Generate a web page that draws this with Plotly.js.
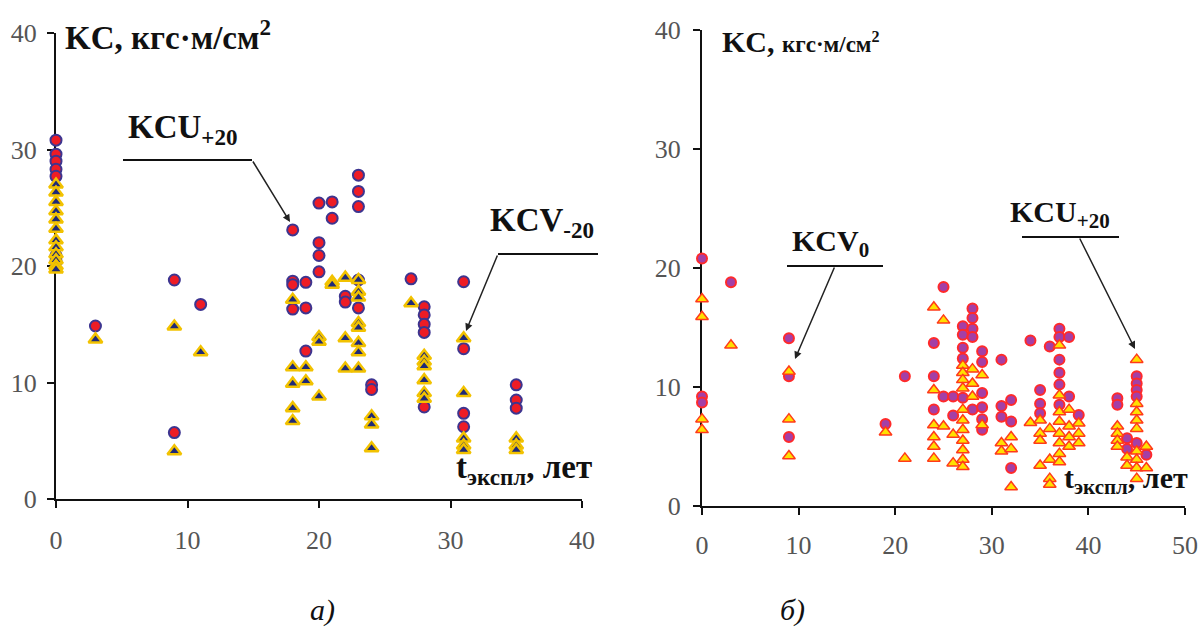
<!DOCTYPE html>
<html>
<head>
<meta charset="utf-8">
<script src="https://cdn.plot.ly/plotly-3.0.1.min.js"></script>
<style>html,body{margin:0;padding:0;background:#fff}#chart{width:1198px;height:628px}</style>
</head>
<body>
<div id="chart"></div>
<script>
// ---------- Panel а) : KCU+20 (circles) and KCV-20 (triangles) ----------
const aKCU_x = [0,0,0,0,0,0,0, 3, 9,9, 11, 18,18,18,18, 19,19,19, 20,20,20,20, 21,21, 22,22, 23,23,23,23,23, 24,24, 27, 28,28,28,28,28, 31,31,31,31, 35,35,35];
const aKCU_y = [30.8,29.6,29.0,28.3,27.7,20.9,20.4, 14.85, 18.8,5.7, 16.7, 23.1,18.7,18.4,16.3, 18.6,16.4,12.7, 25.4,22.0,20.9,19.5, 25.5,24.1, 17.4,16.9, 27.8,26.4,25.1,18.8,16.4, 9.8,9.4, 18.9, 16.5,15.8,15.0,14.3,7.9, 18.65,12.9,7.35,6.2, 9.8,8.5,7.8];

const aKCV_x = [0,0,0,0,0,0,0,0,0,0,0,0, 3, 9,9, 11, 18,18,18,18,18, 19,19, 20,20,20, 21,21, 22,22,22, 23,23,23,23,23,23,23,23, 24,24,24, 27, 28,28,28,28,28,28, 31,31,31,31,31, 35,35,35];
const aKCV_y = [27.0,26.3,25.5,24.7,24.0,23.2,22.2,21.6,21.0,20.5,20.0,19.7, 13.7, 14.8,4.1, 12.6, 17.1,11.3,9.9,7.8,6.7, 11.3,10.1, 13.9,13.5,8.8, 18.65,18.4, 19.0,13.8,11.2, 18.8,17.8,17.3,15.1,14.7,13.4,12.6,11.2, 7.1,6.4,4.35, 16.8, 12.3,11.8,11.4,10.2,9.1,8.6, 13.8,9.1,5.2,4.6,4.2, 5.2,4.6,4.2];

// ---------- Panel б) : KCU+20 (circles) and KCV0 (triangles) ----------
const bKCU_x = [0,0,0, 3, 9,9,9, 19, 21, 24,24,24, 25,25, 26,26, 27,27,27,27,27, 28,28,28,28,28, 29,29,29,29,29,29, 31,31,31, 32,32,32, 34, 35,35,35, 36, 37,37,37,37,37,37, 38,38, 39, 43,43, 44,44, 45,45,45,45,45, 46];
const bKCU_y = [20.8,9.2,8.7, 18.8, 14.1,10.9,5.8, 6.9, 10.9, 13.7,10.9,8.1, 18.4,9.2, 9.2,7.6, 15.1,14.4,13.3,12.4,9.1, 16.6,15.8,14.9,14.2,8.1, 13.0,12.1,9.5,8.3,7.3,6.4, 12.3,8.4,7.5, 8.9,7.1,3.2, 13.9, 9.75,8.6,7.8, 13.4, 14.9,14.2,12.3,11.2,10.2,8.5, 14.2,9.2, 7.65, 9.05,8.5, 5.7,4.8, 10.9,10.3,9.75,9.2,5.3, 4.3];

const bKCV_x = [0,0,0,0, 3, 9,9,9, 19, 21, 24,24,24,24,24,24, 25,25, 26,26, 27,27,27,27,27,27,27,27,27,27,27, 28,28,28, 29,29, 31,31, 32,32,32, 34, 35,35,35,35, 36,36,36,36, 37,37,37,37,37,37,37,37, 38,38,38,38, 39,39,39, 43,43,43,43, 44,44, 45,45,45,45,45,45,45,45,45, 46,46];
const bKCV_y = [17.4,15.9,7.3,6.4, 13.5, 11.3,7.3,4.2, 6.2, 4.0, 16.7,9.75,6.8,5.8,5.0,4.0, 15.6,6.7, 6.0,3.6, 11.8,11.2,10.6,9.9,8.1,7.2,6.4,5.5,4.7,3.9,3.3, 11.5,10.3,9.2, 11.0,6.8, 5.3,4.6, 5.8,4.8,1.6, 7.0, 7.2,6.1,5.5,3.4, 6.5,3.9,2.3,1.8, 13.5,9.3,7.9,7.1,6.1,5.3,4.4,3.7, 8.1,6.7,5.8,5.0, 6.95,6.1,5.3, 6.7,6.1,5.5,5.0, 4.1,3.4, 12.3,8.6,7.9,7.2,6.5,4.6,3.9,3.2,2.3, 5.0,3.2];

const aTicksX = [0,10,20,30,40];
const bTicksX = [0,10,20,30,40,50];
const yTicks = [0,10,20,30,40];

const W = 1198, H = 628;
const px = v => v / W;
const py = v => 1 - v / H;
const SERIF = 'Liberation Serif, Times New Roman, serif';

const traces = [
  {x: aKCU_x, y: aKCU_y, xaxis: 'x', yaxis: 'y', type: 'scatter', mode: 'markers', cliponaxis: false,
   marker: {symbol: 'circle', size: 11, color: '#ee1c25', line: {color: '#3d3590', width: 2}}},
  {x: aKCV_x, y: aKCV_y, xaxis: 'x', yaxis: 'y', type: 'scatter', mode: 'markers', cliponaxis: false,
   marker: {symbol: 'triangle-up', size: 12, color: '#1f2a78', line: {color: '#f2c200', width: 2.5}}},
  {x: bKCU_x, y: bKCU_y, xaxis: 'x2', yaxis: 'y2', type: 'scatter', mode: 'markers', cliponaxis: false,
   marker: {symbol: 'circle', size: 10, color: '#a43fa6', line: {color: '#ff2a2a', width: 2}}},
  {x: bKCV_x, y: bKCV_y, xaxis: 'x2', yaxis: 'y2', type: 'scatter', mode: 'markers', cliponaxis: false,
   marker: {symbol: 'triangle-up', size: 11, color: '#ffe000', line: {color: '#ff3a1a', width: 1.5}}}
];

const tickFont = {family: SERIF, size: 26, color: '#555'};
function axis(domain, range, tickvals, extra) {
  return Object.assign({
    domain: domain, range: range, tickvals: tickvals, ticktext: tickvals.map(String),
    showgrid: false, zeroline: false, showline: true, linecolor: '#111', linewidth: 2,
    ticks: 'outside', ticklen: 7, tickwidth: 2, tickcolor: '#111', tickfont: tickFont,
    layer: 'below traces', fixedrange: true
  }, extra);
}

const lineStyle = {color: '#111', width: 2};
const shapes = [
  {type: 'line', xref: 'paper', yref: 'paper', x0: px(123), x1: px(252), y0: py(160), y1: py(160), line: lineStyle},
  {type: 'line', xref: 'paper', yref: 'paper', x0: px(498), x1: px(598), y0: py(254), y1: py(254), line: lineStyle},
  {type: 'line', xref: 'paper', yref: 'paper', x0: px(787), x1: px(883), y0: py(266), y1: py(266), line: lineStyle},
  {type: 'line', xref: 'paper', yref: 'paper', x0: px(1022), x1: px(1119), y0: py(237), y1: py(237), line: lineStyle}
];

function txt(x, y, text, size, opts) {
  return Object.assign({xref: 'paper', yref: 'paper', x: px(x), y: py(y), text: text, showarrow: false,
    xanchor: 'left', yanchor: 'middle', font: {family: SERIF, size: size, color: '#111'}}, opts || {});
}
function arrow(x, y, ax, ay) {
  return {xref: 'paper', yref: 'paper', x: px(x), y: py(y), ax: ax, ay: ay, text: '', showarrow: true,
    arrowhead: 2, arrowsize: 1, arrowwidth: 1.5, arrowcolor: '#222'};
}

const annotations = [
  txt(63, 35, '<b>KC, кгс·м/см<sup>2</sup></b>', 33),
  txt(126, 129, '<b>KCU<sub>+20</sub></b>', 33),
  txt(488, 223, '<b>KCV<sub>-20</sub></b>', 33),
  txt(454, 469, '<b>t<sub>экспл</sub>, лет</b>', 33),
  arrow(290, 222, -38, -62),
  arrow(466, 331, 32, -77),

  txt(720, 42, '<b>KC, <span style="font-size:23px">кгс·м/см<sup>2</sup></span></b>', 30),
  txt(790, 243, '<b>KCV<sub>0</sub></b>', 30),
  txt(1008, 214, '<b>KCU<sub>+20</sub></b>', 30),
  txt(1062, 480, '<b>t<sub>экспл</sub>, лет</b>', 30),
  arrow(795, 359, 40, -93),
  arrow(1135, 349, -56, -112),

  txt(322, 610, '<i>а)</i>', 30, {xanchor: 'center'}),
  txt(792, 610, '<i>б)</i>', 30, {xanchor: 'center'})
];

const layout = {
  width: W, height: H, margin: {l: 0, r: 0, t: 0, b: 0},
  paper_bgcolor: '#fff', plot_bgcolor: 'rgba(0,0,0,0)', showlegend: false,
  xaxis: axis([px(56), px(582)], [0, 40], aTicksX, {anchor: 'y', ticklabelstandoff: 10}),
  yaxis: axis([py(499), py(33)], [0, 40], yTicks, {anchor: 'x', ticklabelstandoff: 5}),
  xaxis2: axis([px(702), px(1185)], [0, 50], bTicksX, {anchor: 'y2', ticklabelstandoff: 8}),
  yaxis2: axis([py(506), py(30)], [0, 40], yTicks, {anchor: 'x2', ticklabelstandoff: 7}),
  shapes: shapes,
  annotations: annotations
};

Plotly.newPlot('chart', traces, layout, {displayModeBar: false, staticPlot: true});
</script>
</body>
</html>
